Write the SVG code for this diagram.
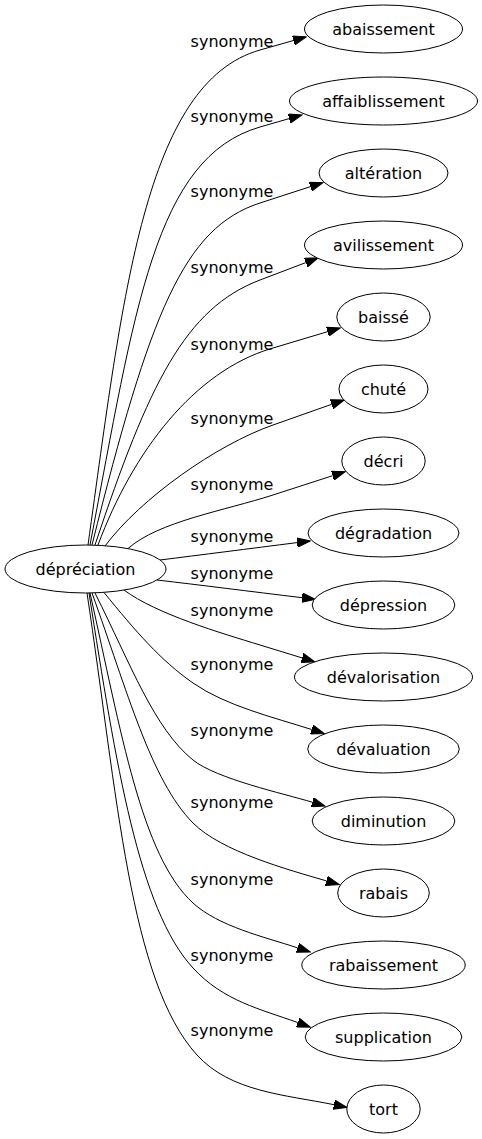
<svg xmlns="http://www.w3.org/2000/svg" width="482" height="1139" viewBox="0 0 482 1139">
<style>
.node ellipse{fill:#ffffff;stroke:#000000;stroke-width:1}
.node text{font-family:"DejaVu Sans",sans-serif;font-size:16px;fill:#000000;text-anchor:middle}
.edge path{fill:none;stroke:#000000;stroke-width:1;marker-end:url(#arrow)}
.edge text{font-family:"DejaVu Sans",sans-serif;font-size:16px;fill:#000000;text-anchor:middle}
</style>
<defs>
<marker id="arrow" markerUnits="userSpaceOnUse" markerWidth="14" markerHeight="10" viewBox="0 0 14 10" refX="0" refY="5" orient="auto">
<path d="M0,0.3 L13.3,5 L0,9.7 z" fill="#000000" stroke="#000000" stroke-width="1"/>
</marker>
</defs>
<rect x="0" y="0" width="482" height="1139" fill="#ffffff"/>
<g id="connectors">
<g class="edge" id="e-abaissement"><path d="M88,545 C123,295 144.5,82.8 260,50 L293.5,40.5"/><text x="232" y="46.5">synonyme</text></g>
<g class="edge" id="e-affaiblissement"><path d="M90,545 C135.1,309.3 154.3,157.5 260,127 L289.2,118.6"/><text x="232" y="121.5">synonyme</text></g>
<g class="edge" id="e-alteration"><path d="M92,545 C150.1,312.2 183.9,227.6 260,203 L310.3,186.7"/><text x="232" y="196.5">synonyme</text></g>
<g class="edge" id="e-avilissement"><path d="M95,545 C148.7,383.7 185.2,308.4 260,280 L305.8,262.6"/><text x="232" y="272.5">synonyme</text></g>
<g class="edge" id="e-baisse"><path d="M98,545 C133,451 194.4,371.6 271,348.6 L327.5,331.7"/><text x="232" y="349.5">synonyme</text></g>
<g class="edge" id="e-chute"><path d="M105,546 C141,498 216.4,444.9 273,425 L331.7,404.3"/><text x="232" y="423.5">synonyme</text></g>
<g class="edge" id="e-decri"><path d="M128,548.6 C158,521.6 225.5,510.4 273,495 L332.6,475.7"/><text x="232" y="489.5">synonyme</text></g>
<g class="edge" id="e-degradation"><path d="M160,560 C200,555 250,548.6 297.1,542.6"/><text x="232" y="542">synonyme</text></g>
<g class="edge" id="e-depression"><path d="M157,580 C200,585 250,591.4 302.1,597.7"/><text x="232" y="578.5">synonyme</text></g>
<g class="edge" id="e-devalorisation"><path d="M124,590 C156,614 221.8,633.3 260,645 L302.1,657.9"/><text x="232" y="616">synonyme</text></g>
<g class="edge" id="e-devaluation"><path d="M104,592.5 C135.9,631.5 160.2,660.1 193,683 C225.8,705.9 273.5,717.3 311.6,729.5"/><text x="232" y="669.5">synonyme</text></g>
<g class="edge" id="e-diminution"><path d="M95,593 C130.8,664.5 154.1,728.6 193,760 C216.3,778.8 283.6,793.6 312.3,802.2"/><text x="232" y="736">synonyme</text></g>
<g class="edge" id="e-rabais"><path d="M92,593 C127.2,690.6 150.8,780.3 193,823 C221.1,851.4 288.1,869.7 326.5,880.9"/><text x="232" y="808">synonyme</text></g>
<g class="edge" id="e-rabaissement"><path d="M90,593 C121.5,733.4 141.4,855.8 193,903 C218.8,926.6 264.5,936.9 297.7,947.9"/><text x="232" y="885">synonyme</text></g>
<g class="edge" id="e-supplication"><path d="M89,593 C116,764.8 138.8,909.2 193,968 C223.5,1001.1 260.2,1009 297.8,1022.6"/><text x="232" y="961">synonyme</text></g>
<g class="edge" id="e-tort"><path d="M87,593 C117.4,794.6 129.7,981 197,1055 C230.7,1092 285,1094.7 334,1104.7"/><text x="232" y="1036">synonyme</text></g>
</g>
<g class="node" id="n-depreciation"><ellipse cx="85.5" cy="569" rx="80.5" ry="24"/><text x="85.5" y="574.5">dépréciation</text></g>
<g class="node" id="n-abaissement"><ellipse cx="383.5" cy="29" rx="79" ry="24"/><text x="383.5" y="34.5">abaissement</text></g>
<g class="node" id="n-affaiblissement"><ellipse cx="383.5" cy="101" rx="94" ry="24"/><text x="383.5" y="106.5">affaiblissement</text></g>
<g class="node" id="n-alteration"><ellipse cx="383.5" cy="173" rx="64.5" ry="24"/><text x="383.5" y="178.5">altération</text></g>
<g class="node" id="n-avilissement"><ellipse cx="383.5" cy="245" rx="79" ry="24"/><text x="383.5" y="250.5">avilissement</text></g>
<g class="node" id="n-baisse"><ellipse cx="383.5" cy="317" rx="46.7" ry="24"/><text x="383.5" y="322.5">baissé</text></g>
<g class="node" id="n-chute"><ellipse cx="383.5" cy="389" rx="44.5" ry="24"/><text x="383.5" y="394.5">chuté</text></g>
<g class="node" id="n-decri"><ellipse cx="383.5" cy="461" rx="41.7" ry="24"/><text x="383.5" y="466.5">décri</text></g>
<g class="node" id="n-degradation"><ellipse cx="383.5" cy="533" rx="75.5" ry="24"/><text x="383.5" y="538.5">dégradation</text></g>
<g class="node" id="n-depression"><ellipse cx="383.5" cy="605" rx="71.3" ry="24"/><text x="383.5" y="610.5">dépression</text></g>
<g class="node" id="n-devalorisation"><ellipse cx="383.5" cy="677" rx="89" ry="24"/><text x="383.5" y="682.5">dévalorisation</text></g>
<g class="node" id="n-devaluation"><ellipse cx="383.5" cy="749" rx="75.8" ry="24"/><text x="383.5" y="754.5">dévaluation</text></g>
<g class="node" id="n-diminution"><ellipse cx="383.5" cy="821" rx="71.3" ry="24"/><text x="383.5" y="826.5">diminution</text></g>
<g class="node" id="n-rabais"><ellipse cx="383.5" cy="893" rx="45.8" ry="24"/><text x="383.5" y="898.5">rabais</text></g>
<g class="node" id="n-rabaissement"><ellipse cx="383.5" cy="965" rx="81.7" ry="24"/><text x="383.5" y="970.5">rabaissement</text></g>
<g class="node" id="n-supplication"><ellipse cx="383.5" cy="1037" rx="78.3" ry="24"/><text x="383.5" y="1042.5">supplication</text></g>
<g class="node" id="n-tort"><ellipse cx="383.5" cy="1109" rx="36.7" ry="24"/><text x="383.5" y="1114.5">tort</text></g>
</svg>
